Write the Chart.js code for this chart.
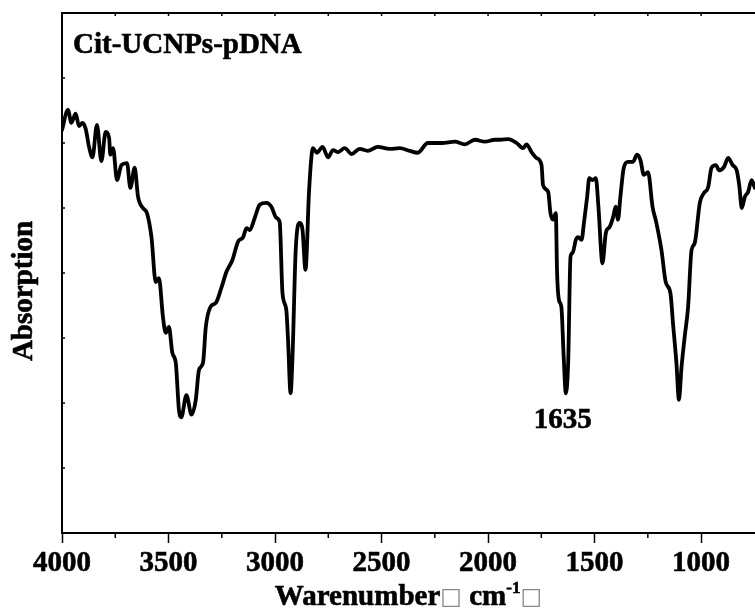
<!DOCTYPE html>
<html><head><meta charset="utf-8">
<script src="https://cdn.jsdelivr.net/npm/chart.js@4.4.1/dist/chart.umd.min.js"></script>
<style>html,body{margin:0;padding:0;background:#fff;overflow:hidden}#wrap{width:755px;height:612px;position:relative}</style>
</head><body><div id="wrap"><canvas id="c" width="755" height="612"></canvas></div>
<script>
const wavenumbers = [4000,3972,3956,3936,3920,3904,3889,3873,3857,3836,
3815,3795,3779,3773,3760,3742,3721,3695,3679,3659,
3643,3620,3601,3580,3560,3545,3526,3513,3498,3482,
3466,3451,3440,3416,3392,3372,3357,3338,3325,3303,
3278,3252,3228,3200,3174,3150,3134,3119,3095,3072,
3040,3017,2994,2978,2965,2947,2939,2927,2918,2903,
2884,2871,2857,2840,2822,2803,2777,2751,2728,2704,
2673,2640,2603,2565,2518,2462,2415,2368,2330,2283,
2217,2156,2109,2062,2015,1968,1944,1905,1866,1835,
1820,1796,1773,1749,1742,1718,1707,1695,1682,1676,
1667,1656,1645,1635,1624,1613,1603,1588,1577,1561,
1550,1535,1525,1510,1494,1482,1463,1447,1429,1413,
1401,1390,1379,1363,1343,1320,1301,1285,1269,1249,
1228,1210,1186,1166,1144,1132,1116,1104,1092,1077,
1061,1045,1030,1006,987,967,951,931,915,893,
873,852,833,821,809,795,779,763,748];
const absorption = [6.20,6.51,6.31,6.45,6.26,6.31,6.22,5.94,5.78,6.28,
5.72,6.17,6.08,5.82,5.92,5.43,5.66,5.69,5.31,5.62,
5.17,5.00,4.92,4.55,3.86,3.92,3.32,3.08,3.17,2.77,
2.62,1.89,1.78,2.12,1.82,2.05,2.51,2.62,3.17,3.48,
3.54,3.77,4.02,4.20,4.48,4.55,4.69,4.66,4.85,5.05,
5.08,5.02,4.85,4.78,3.69,3.43,2.97,2.15,2.71,4.35,
4.77,4.66,4.05,5.28,5.92,5.85,5.94,5.78,5.89,5.86,
5.92,5.83,5.91,5.88,5.94,5.91,5.92,5.88,5.85,6.00,
6.00,6.02,5.98,6.05,6.02,6.05,6.05,6.06,6.00,5.92,
5.98,5.86,5.77,5.66,5.35,5.25,4.92,4.82,4.92,4.00,
3.58,3.48,2.71,2.15,2.62,4.25,4.31,4.51,4.55,4.51,
4.77,5.17,5.46,5.43,5.46,5.02,4.15,4.62,4.71,4.86,
5.02,4.82,5.17,5.62,5.71,5.71,5.82,5.74,5.51,5.55,
5.02,4.77,4.35,3.86,3.69,3.23,2.62,2.05,2.55,3.02,
3.48,4.35,4.46,5.08,5.23,5.32,5.62,5.66,5.58,5.63,
5.77,5.66,5.58,5.35,5.00,5.17,5.25,5.43,5.31];
const xMajorTicks = [4000,3500,3000,2500,2000,1500,1000];
const xMinorTicks = [3750,3250,2750,2250,1750,1250];
const yTicks = [1,2,3,4,5,6,7];
const sampleLabel = 'Cit-UCNPs-pDNA';
const peakValue = 1635;
const peakLabel = '1635';
const yTitle = 'Absorption';
const xTitleParts = ['Warenumber','\u25A1',' cm','-1','\u25A1'];

const SERIF = '"Liberation Serif","Times New Roman",serif';

function boldText(ctx, t, x, y) {
  ctx.fillText(t, x, y);
  ctx.lineWidth = 0.6;
  ctx.strokeText(t, x, y);
}

const decor = {
  id: 'decor',
  afterDraw(chart) {
    const {ctx, chartArea: a, scales: {x, y}} = chart;
    ctx.save();
    ctx.strokeStyle = '#000';
    ctx.lineWidth = 2;
    ctx.beginPath(); ctx.moveTo(a.left - 1, a.top); ctx.lineTo(a.right, a.top); ctx.stroke();
    ctx.lineWidth = 1.5;
    xMinorTicks.forEach(v => {
      const px = x.getPixelForValue(v);
      ctx.beginPath(); ctx.moveTo(px, a.bottom); ctx.lineTo(px, a.bottom + 5); ctx.stroke();
    });
    xMajorTicks.concat(xMinorTicks).forEach(v => {
      const px = x.getPixelForValue(v);
      ctx.beginPath(); ctx.moveTo(px, a.top); ctx.lineTo(px, a.top + 3); ctx.stroke();
    });
    yTicks.forEach(v => {
      const py = y.getPixelForValue(v);
      ctx.beginPath(); ctx.moveTo(a.left, py); ctx.lineTo(a.left + 3, py); ctx.stroke();
    });
    ctx.fillStyle = '#000';
    // sample label
    ctx.font = 'bold 29px ' + SERIF;
    ctx.textAlign = 'left'; ctx.textBaseline = 'alphabetic';
    boldText(ctx, sampleLabel, a.left + 11, a.top + 40);
    // peak label
    ctx.textAlign = 'center';
    boldText(ctx, peakLabel, x.getPixelForValue(peakValue) - 3, y.getPixelForValue(1.62));
    // y title
    ctx.save();
    ctx.translate(32, 291);
    ctx.rotate(-Math.PI / 2);
    boldText(ctx, yTitle, 0, 0);
    ctx.restore();
    // x title
    const fonts = ['bold 29px ' + SERIF, '23px "DejaVu Sans"', 'bold 29px ' + SERIF, 'bold 17px ' + SERIF, '23px "DejaVu Sans"'];
    const dys = [0, -1, 0, -12, -1];
    ctx.textAlign = 'left';
    let widths = xTitleParts.map((t, i) => { ctx.font = fonts[i]; return ctx.measureText(t).width; });
    const total = widths.reduce((s, w) => s + w, 0);
    let cx = (a.left + a.right) / 2 - total / 2;
    const base = 605;
    xTitleParts.forEach((t, i) => {
      ctx.font = fonts[i];
      if (i === 1 || i === 4) { ctx.fillStyle = '#888'; ctx.fillText(t, cx, base + dys[i]); }
      else { ctx.fillStyle = '#000'; ctx.strokeStyle = '#000'; boldText(ctx, t, cx, base + dys[i]); }
      cx += widths[i];
    });
    ctx.restore();
  }
};

new Chart(document.getElementById('c'), {
  type: 'line',
  data: {
    datasets: [{
      data: wavenumbers.map((w, i) => ({x: w, y: absorption[i]})),
      borderColor: '#000',
      borderWidth: 3.8,
      pointRadius: 0,
      fill: false,
      cubicInterpolationMode: 'monotone',
      borderJoinStyle: 'round',
      borderCapStyle: 'round'
    }]
  },
  options: {
    responsive: false,
    animation: false,
    devicePixelRatio: 1,
    layout: {padding: {top: 13, right: 0, left: 0, bottom: 0}},
    plugins: {legend: {display: false}, tooltip: {enabled: false}, title: {display: false}},
    scales: {
      x: {
        type: 'linear', reverse: true, min: 747, max: 4000,
        afterBuildTicks: s => { s.ticks = xMajorTicks.map(v => ({value: v})); },
        afterFit: s => { s.height = 79; },
        ticks: {font: {family: SERIF, weight: 'bold', size: 29}, color: '#000', padding: 3, maxRotation: 0, autoSkip: false, callback: v => String(v), textStrokeColor: '#000', textStrokeWidth: 0.6},
        grid: {display: true, drawOnChartArea: false, drawTicks: true, tickLength: 10, tickColor: '#000', tickWidth: 1.5},
        border: {display: true, color: '#000', width: 2}
      },
      y: {
        min: 0, max: 8,
        afterFit: s => { s.width = 62; },
        ticks: {display: false},
        grid: {display: false},
        border: {display: true, color: '#000', width: 2}
      }
    }
  },
  plugins: [decor]
});
</script></body></html>
